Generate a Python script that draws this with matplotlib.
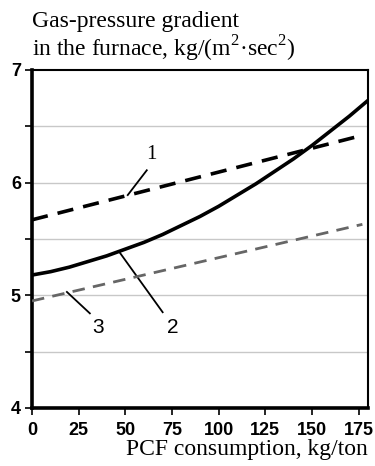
import matplotlib
matplotlib.use("Agg")
import matplotlib.pyplot as plt

# Data
x1 = [0, 177]
y1 = [5.67, 6.42]
x2 = [0, 10, 20, 30, 40, 50, 60, 70, 80, 90, 100, 110, 120, 130, 140, 150, 160, 170, 180]
y2 = [5.18, 5.21, 5.25, 5.30, 5.35, 5.41, 5.47, 5.54, 5.62, 5.70, 5.79, 5.89, 5.99,
      6.10, 6.21, 6.33, 6.46, 6.59, 6.73]
x3 = [0, 177]
y3 = [4.95, 5.63]
xticks = [0, 25, 50, 75, 100, 125, 150, 175]
yticks = [4, 5, 6, 7]

plt.rcParams['mathtext.fontset'] = 'custom'
plt.rcParams['mathtext.rm'] = 'Liberation Serif'

fig = plt.figure(figsize=(3.75, 4.66), dpi=100)
ax = fig.add_axes([0.0853, 0.1245, 0.8960, 0.7253])

ax.set_xlim(0, 180)
ax.set_ylim(4, 7)

for g in [4.5, 5, 5.5, 6, 6.5]:
    ax.axhline(g, color='#c8c8c8', lw=1.0, zorder=0)

ax.plot(x1, y1, color='black', lw=2.6, dashes=(4.5, 2.8), zorder=3)
ax.plot(x3, y3, color='#666666', lw=2.0, dashes=(4.5, 3), zorder=3)
ax.plot(x2, y2, color='black', lw=2.6, zorder=4, solid_capstyle='butt')

# Leader lines and labels
ax.plot([61.5, 51.3], [6.11, 5.89], color='black', lw=1.3)
ax.text(64, 6.25, '1', fontsize=15, family='Liberation Serif', ha='center', va='center')
ax.plot([47, 70], [5.38, 4.85], color='black', lw=1.3)
ax.text(75.4, 4.71, '2', fontsize=15, family='Liberation Sans', ha='center', va='center')
ax.plot([18.7, 31], [5.03, 4.84], color='black', lw=1.3)
ax.text(35.3, 4.71, '3', fontsize=15, family='Liberation Sans', ha='center', va='center')

ax.set_xticks(xticks)
ax.set_yticks(yticks)
ax.set_yticks([4.5, 5.5, 6.5], minor=True)
ax.tick_params(axis='both', which='both', direction='out', length=5, width=1.2, color='black')
ax.tick_params(axis='x', which='major', labelsize=13, pad=5)
ax.tick_params(axis='y', which='major', labelsize=13, pad=3)
for lab in ax.get_xticklabels() + ax.get_yticklabels():
    lab.set_family('Liberation Sans')
    lab.set_fontweight('bold')

ax.spines['left'].set_linewidth(2.6)
ax.spines['bottom'].set_linewidth(2.6)
ax.spines['top'].set_linewidth(1.5)
ax.spines['right'].set_linewidth(1.5)

fig.text(0.0853, 0.953, 'Gas-pressure gradient', fontsize=17, family='Liberation Serif', ha='left', va='center')
fig.text(0.0853, 0.895, 'in the furnace, kg/(m$^{2}$·sec$^{2}$)', fontsize=17, family='Liberation Serif', ha='left', va='center')
fig.text(0.981, 0.036, 'PCF consumption, kg/ton', fontsize=17, family='Liberation Serif', ha='right', va='center')

fig.savefig('out.png', dpi=100)
